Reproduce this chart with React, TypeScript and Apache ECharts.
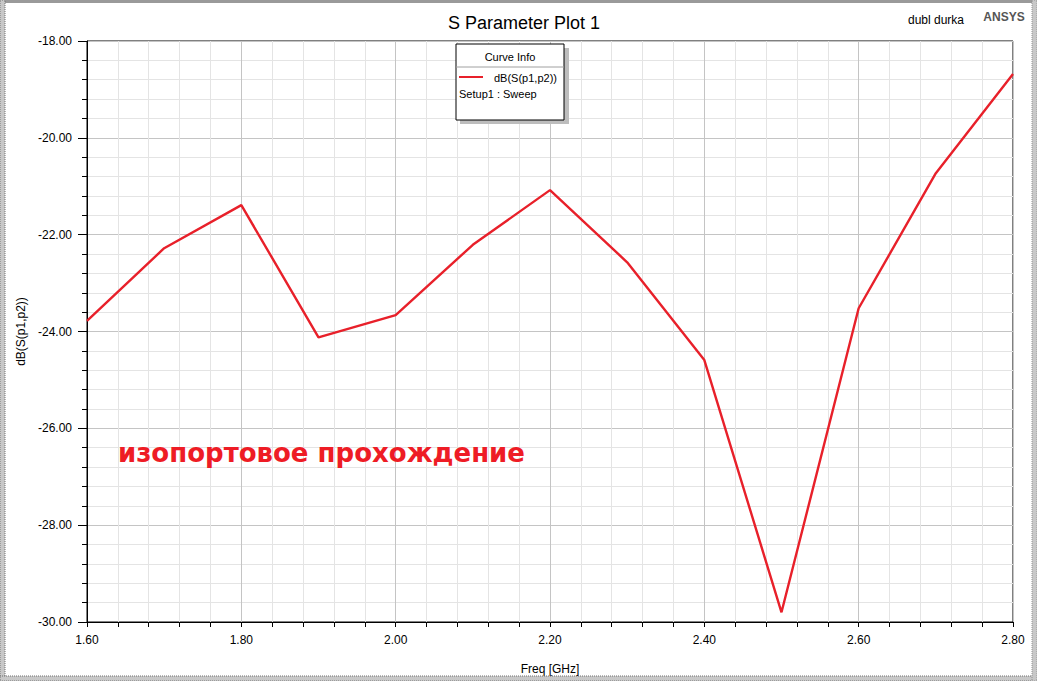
import React, { useEffect, useRef } from "react";
import * as echarts from "echarts";

const freqGHz = [1.6, 1.7, 1.8, 1.9, 2.0, 2.1, 2.2, 2.3, 2.4, 2.5, 2.6, 2.7, 2.8];
const dbS12 = [-23.78, -22.28, -21.39, -24.12, -23.66, -22.21, -21.08, -22.57, -24.59, -29.8, -23.52, -20.73, -18.68];
const xRange = [1.6, 2.8];
const yRange = [-30, -18];

export default function App() {
  const ref = useRef<HTMLDivElement>(null);
  useEffect(() => {
    if (!ref.current) return;
    const chart = echarts.init(ref.current, null, { renderer: "svg" });
    const font = "Liberation Sans, Arial, sans-serif";
    chart.setOption({
      animation: false,
      backgroundColor: "#ffffff",
      title: {
        text: "S Parameter Plot 1",
        left: 519,
        top: 9,
        textAlign: "center",
        textStyle: { fontFamily: font, fontSize: 18, fontWeight: "normal", color: "#000" },
      },
      grid: {
        left: 87,
        top: 41,
        width: 926,
        height: 581,
        show: true,
        borderColor: "#000",
        borderWidth: 1,
        backgroundColor: "#fff",
        containLabel: false,
      },
      xAxis: {
        type: "value",
        min: xRange[0],
        max: xRange[1],
        interval: 0.2,
        name: "Freq [GHz]",
        nameLocation: "middle",
        nameGap: 41,
        nameTextStyle: { fontFamily: font, fontSize: 12, color: "#000" },
        axisLine: { show: true, lineStyle: { color: "#000", width: 1 } },
        axisTick: { show: true, length: 5, lineStyle: { color: "#000" } },
        minorTick: { show: true, splitNumber: 5, length: 5, lineStyle: { color: "#000" } },
        splitLine: { show: true, lineStyle: { color: "#c4c4c4", width: 1 } },
        minorSplitLine: { show: true, lineStyle: { color: "#e4e4e4", width: 1 } },
        axisLabel: {
          fontFamily: font,
          fontSize: 12,
          color: "#000",
          margin: 12,
          formatter: (v: number) => v.toFixed(2),
        },
      },
      yAxis: {
        type: "value",
        min: yRange[0],
        max: yRange[1],
        interval: 2,
        name: "dB(S(p1,p2))",
        nameLocation: "middle",
        nameGap: 57,
        nameRotate: 90,
        nameTextStyle: { fontFamily: font, fontSize: 12, color: "#000" },
        axisLine: { show: true, lineStyle: { color: "#000", width: 1 } },
        axisTick: { show: true, length: 9, lineStyle: { color: "#000" } },
        minorTick: { show: true, splitNumber: 5, length: 5, lineStyle: { color: "#000" } },
        splitLine: { show: true, lineStyle: { color: "#c4c4c4", width: 1 } },
        minorSplitLine: { show: true, lineStyle: { color: "#e4e4e4", width: 1 } },
        axisLabel: {
          fontFamily: font,
          fontSize: 12,
          color: "#000",
          margin: 15,
          formatter: (v: number) => v.toFixed(2),
        },
      },
      series: [
        {
          type: "line",
          data: freqGHz.map((f, i) => [f, dbS12[i]]),
          showSymbol: false,
          symbol: "none",
          lineStyle: { color: "#e8202a", width: 2.4 },
          z: 5,
        },
      ],
      graphic: [
        // outer frame
        { type: "rect", shape: { x: 0, y: 0, width: 1037, height: 3 }, style: { fill: "#9a9a9a" }, z: 100 },
        { type: "rect", shape: { x: 0, y: 0, width: 5, height: 681 }, style: { fill: "#c8c8c8", stroke: "#707070", lineWidth: 1, lineDash: [1, 1] }, z: 100 },
        { type: "rect", shape: { x: 0, y: 676, width: 1037, height: 5 }, style: { fill: "#c8c8c8", stroke: "#707070", lineWidth: 1, lineDash: [1, 1] }, z: 100 },
        { type: "rect", shape: { x: 1032, y: 0, width: 5, height: 681 }, style: { fill: "#c8c8c8", stroke: "#909090", lineWidth: 1, lineDash: [1, 1] }, z: 100 },
        // header texts
        {
          type: "text",
          x: 936,
          y: 20,
          style: { text: "dubl durka", fontFamily: font, fontSize: 12, fill: "#000", align: "center", verticalAlign: "middle" },
          z: 100,
        },
        {
          type: "text",
          x: 1004,
          y: 17,
          style: { text: "ANSYS", fontFamily: font, fontSize: 12, fontWeight: "bold", fill: "#555", align: "center", verticalAlign: "middle" },
          z: 100,
        },
        // legend box
        { type: "rect", shape: { x: 460, y: 48, width: 109, height: 76 }, style: { fill: "#bdbdbd" }, z: 100 },
        { type: "rect", shape: { x: 456, y: 44, width: 108, height: 76 }, style: { fill: "#fff", stroke: "#000", lineWidth: 1 }, z: 101 },
        { type: "line", shape: { x1: 456, y1: 67, x2: 564, y2: 67 }, style: { stroke: "#a0a0a0", lineWidth: 1 }, z: 102 },
        {
          type: "text",
          x: 510,
          y: 57,
          style: { text: "Curve Info", fontFamily: font, fontSize: 11, fill: "#000", align: "center", verticalAlign: "middle" },
          z: 102,
        },
        { type: "line", shape: { x1: 459, y1: 77, x2: 483, y2: 77 }, style: { stroke: "#e8202a", lineWidth: 2 }, z: 102 },
        {
          type: "text",
          x: 494,
          y: 78,
          style: { text: "dB(S(p1,p2))", fontFamily: font, fontSize: 11, fill: "#000", align: "left", verticalAlign: "middle" },
          z: 102,
        },
        {
          type: "text",
          x: 459,
          y: 94,
          style: { text: "Setup1 : Sweep", fontFamily: font, fontSize: 11, fill: "#000", align: "left", verticalAlign: "middle" },
          z: 102,
        },
        // annotation
        {
          type: "text",
          x: 118,
          y: 453,
          style: {
            text: "изопортовое прохождение",
            fontFamily: "DejaVu Sans, sans-serif",
            fontSize: 26,
            fontWeight: "bold",
            fill: "#ee1c25",
            align: "left",
            verticalAlign: "middle",
          },
          z: 102,
        },
      ],
    });
    return () => chart.dispose();
  }, []);
  return (
    <div
      ref={ref}
      style={{ position: "fixed", left: 0, top: 0, width: 1037, height: 681 }}
    />
  );
}
